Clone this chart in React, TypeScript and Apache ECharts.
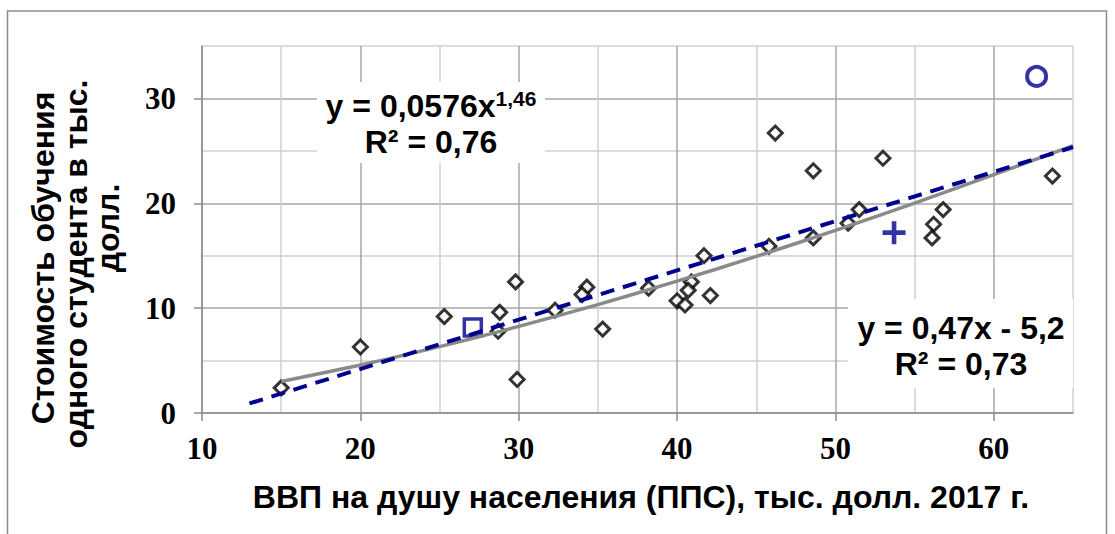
import React, { useEffect, useRef } from "react";
import * as echarts from "echarts";

// Main sample (black diamonds): GDP per capita (x) vs cost per student (y)
const DIAMOND_X = [15.0, 20.0, 25.3, 28.8, 28.7, 29.8, 29.9, 32.3, 34.3, 34.0, 35.3, 38.2, 41.7, 40.9, 40.7, 40.0, 40.5, 42.1, 46.2, 48.6, 53.0, 45.8, 48.6, 50.8, 51.5, 56.8, 56.2, 56.1, 63.7];
const DIAMOND_Y = [2.4, 6.3, 9.2, 9.6, 7.8, 12.5, 3.2, 9.8, 12.0, 11.3, 8.0, 11.9, 15.0, 12.5, 11.7, 10.7, 10.3, 11.2, 26.7, 23.1, 24.3, 15.9, 16.7, 18.1, 19.4, 19.4, 18.0, 16.7, 22.6];

// Highlighted points
const SQUARE_PT = [27.1, 8.15];
const PLUS_PT = [53.7, 17.2];
const CIRCLE_PT = [62.7, 32.1];

// Power trend line
const POWER_X = [15, 20, 25, 30, 35, 40, 45, 50, 55, 60, 65];
const POWER_Y = [3.0, 4.57, 6.33, 8.26, 10.34, 12.57, 14.93, 17.42, 20.02, 22.73, 25.5];

// Linear trend line
const LIN_X = [13, 65];
const LIN_Y = [0.91, 25.35];

// Tick labels
const X_TICKS = [10, 20, 30, 40, 50, 60];
const Y_TICKS = [0, 10, 20, 30];

const EQ_POWER = "{a|y = 0,0576x}{s|1,46}\n{a|R² = 0,76}";
const EQ_LINEAR = "{a|y = 0,47x - 5,2}\n{a|R² = 0,73}";
const X_TITLE = "ВВП на душу населения (ППС), тыс. долл. 2017 г.";
const Y_TITLE = ["Стоимость обучения", "одного студента в тыс.", "долл."];

const BLUE = "#00008f";
const SANS = "Liberation Sans";
const SERIF = "Liberation Serif";

const zip = (xs: number[], ys: number[]) => xs.map((x, i) => [x, ys[i]]);

export default function App() {
  const ref = useRef<HTMLDivElement>(null);
  useEffect(() => {
    if (!ref.current) return;
    const chart = echarts.init(ref.current, undefined, { renderer: "svg" });
    const gridColors = ["#a6a6a6", "#d0d0d0"];
    const tickLabel = {
      fontFamily: SERIF,
      fontWeight: "bold" as const,
      fontSize: 31,
      color: "#000",
    };
    const eqRich = {
      a: { fontFamily: SANS, fontWeight: "bold" as const, fontSize: 32, color: "#000", lineHeight: 36 },
      s: { fontFamily: SANS, fontWeight: "bold" as const, fontSize: 21, color: "#000", verticalAlign: "top" as const, lineHeight: 36 },
    };
    const titleStyle = (text: string, size: number) => ({
      text, fontFamily: SANS, fontWeight: "bold", fontSize: size, fill: "#000", align: "center", verticalAlign: "middle",
    });
    chart.setOption({
      animation: false,
      backgroundColor: "#fff",
      grid: { left: 202, right: 42, top: 46, bottom: 121, containLabel: false },
      xAxis: [
        {
          type: "value", min: 10, max: 65, interval: 5, position: "bottom",
          axisLine: { show: true, onZero: false, lineStyle: { color: "#8c8c8c", width: 1.5 } },
          axisTick: { show: false }, axisLabel: { show: false },
          splitLine: { show: true, lineStyle: { color: gridColors, width: 1.5 } },
        },
        {
          type: "value", min: 10, max: 65, interval: 10, position: "bottom",
          axisLine: { show: false, onZero: false },
          axisTick: { show: true, length: 8, customValues: X_TICKS, lineStyle: { color: "#8c8c8c", width: 1.5 } },
          axisLabel: { ...tickLabel, margin: 20, customValues: X_TICKS, formatter: (v: number) => (v % 10 === 0 && v <= 60 ? String(v) : "") },
          splitLine: { show: false },
        },
      ],
      yAxis: [
        {
          type: "value", min: 0, max: 35, interval: 5, position: "left",
          axisLine: { show: true, onZero: false, lineStyle: { color: "#8c8c8c", width: 1.5 } },
          axisTick: { show: false }, axisLabel: { show: false },
          splitLine: { show: true, lineStyle: { color: gridColors, width: 1.5 } },
        },
        {
          type: "value", min: 0, max: 35, interval: 10, position: "left",
          axisLine: { show: false, onZero: false },
          axisTick: { show: true, length: 8, customValues: Y_TICKS, lineStyle: { color: "#8c8c8c", width: 1.5 } },
          axisLabel: { ...tickLabel, margin: 26, customValues: Y_TICKS, formatter: (v: number) => (v % 10 === 0 && v <= 30 ? String(v) : "") },
          splitLine: { show: false },
        },
      ],
      series: [
        {
          type: "scatter", xAxisIndex: 0, yAxisIndex: 0, z: 2,
          symbol: "diamond", symbolSize: 14,
          itemStyle: { color: "#fff", borderColor: "#000", borderWidth: 3 },
          data: zip(DIAMOND_X, DIAMOND_Y),
        },
        {
          type: "scatter", xAxisIndex: 0, yAxisIndex: 0, z: 2,
          symbol: "rect", symbolSize: 17,
          itemStyle: { color: "#fff", borderColor: BLUE, borderWidth: 3.5 },
          data: [SQUARE_PT],
        },
        {
          type: "scatter", xAxisIndex: 0, yAxisIndex: 0, z: 2,
          symbol: "path://M4,0H6V4H10V6H6V10H4V6H0V4H4Z", symbolSize: 23,
          itemStyle: { color: BLUE },
          data: [PLUS_PT],
        },
        {
          type: "scatter", xAxisIndex: 0, yAxisIndex: 0, z: 2,
          symbol: "circle", symbolSize: 19,
          itemStyle: { color: "#fff", borderColor: BLUE, borderWidth: 4 },
          data: [CIRCLE_PT],
        },
        {
          type: "line", xAxisIndex: 0, yAxisIndex: 0, z: 4,
          showSymbol: false, smooth: 0.3,
          lineStyle: { color: "#8a8a8a", width: 3.5 },
          data: zip(POWER_X, POWER_Y),
        },
        {
          type: "line", xAxisIndex: 0, yAxisIndex: 0, z: 5,
          showSymbol: false,
          lineStyle: { color: BLUE, width: 4, type: [14, 9] },
          data: zip(LIN_X, LIN_Y),
        },
      ],
      graphic: [
        {
          type: "rect", silent: true, z: 1,
          shape: { x: 7.5, y: 11, width: 1099, height: 540 },
          style: { fill: "none", stroke: "#8c8c8c", lineWidth: 1.5 },
        },
        {
          type: "rect", silent: true, z: 10,
          shape: { x: 317, y: 82, width: 228, height: 81 },
          style: { fill: "#fff" },
        },
        {
          type: "text", silent: true, z: 11, x: 431, y: 124,
          style: { text: EQ_POWER, rich: eqRich, align: "center", verticalAlign: "middle" },
        },
        {
          type: "rect", silent: true, z: 10,
          shape: { x: 848, y: 299, width: 225, height: 89 },
          style: { fill: "#fff" },
        },
        {
          type: "text", silent: true, z: 11, x: 961, y: 346,
          style: { text: EQ_LINEAR, rich: eqRich, align: "center", verticalAlign: "middle" },
        },
        {
          type: "text", silent: true, z: 11, x: 641, y: 497,
          style: titleStyle(X_TITLE, 32),
        },
        {
          type: "text", silent: true, z: 11, x: 43, y: 258, rotation: Math.PI / 2,
          style: titleStyle(Y_TITLE[0], 32),
        },
        {
          type: "text", silent: true, z: 11, x: 76, y: 264, rotation: Math.PI / 2,
          style: titleStyle(Y_TITLE[1], 32),
        },
        {
          type: "text", silent: true, z: 11, x: 108, y: 228, rotation: Math.PI / 2,
          style: titleStyle(Y_TITLE[2], 32),
        },
      ],
    });
    return () => chart.dispose();
  }, []);
  return (
    <div
      ref={ref}
      style={{ position: "fixed", left: 0, top: 0, width: 1115, height: 534, background: "#fff" }}
    />
  );
}
